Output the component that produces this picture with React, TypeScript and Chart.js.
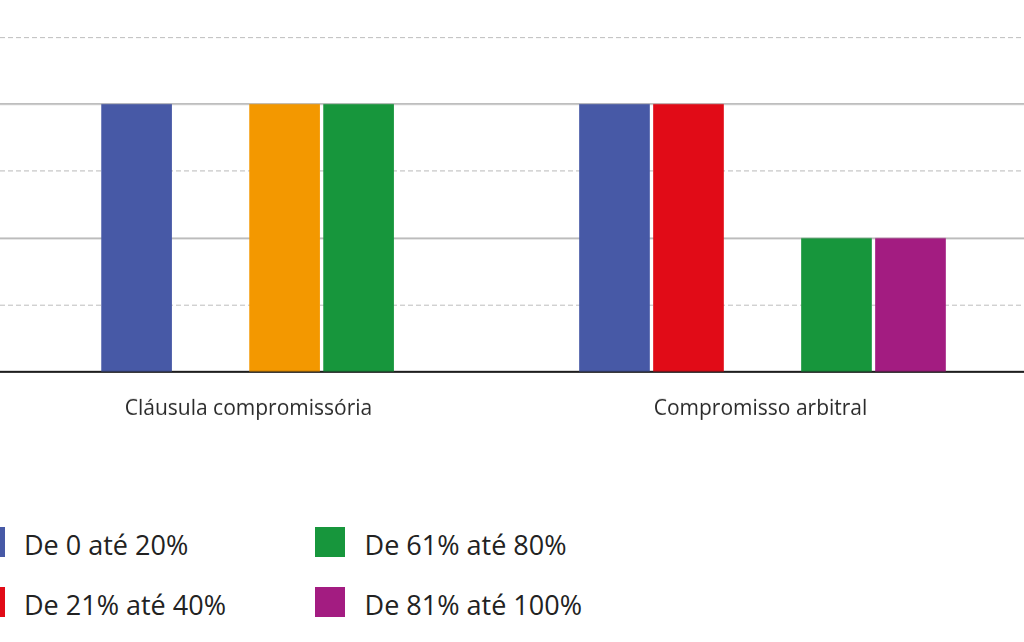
import { useEffect, useRef } from 'react';
import { Chart, registerables, ChartConfiguration, ScriptableScaleContext } from 'chart.js';

Chart.register(...registerables);

// Categories on the x axis
const categories = ['Cláusula compromissória', 'Compromisso arbitral'];

// Series (legend order) and their colours
const seriesNames = ['De 0 até 20%', 'De 21% até 40%', 'De 41% até 60%', 'De 61% até 80%', 'De 81% até 100%'];
const seriesColors = ['#4759a6', '#e10b17', '#f39800', '#17963c', '#a31c81'];

// One value per category, null = no bar
const range0to20: (number | null)[] = [4, 4];
const range21to40: (number | null)[] = [null, 4];
const range41to60: (number | null)[] = [4, null];
const range61to80: (number | null)[] = [4, 2];
const range81to100: (number | null)[] = [null, 2];
const seriesValues = [range0to20, range21to40, range41to60, range61to80, range81to100];

// Value axis
const yMax = 5;
const yStep = 1;

// The visible window of the category axis (the picture is cropped on both sides)
const xMin = -0.5955;
const xMax = 1.5472;

const FONT = '"Open Sans", sans-serif';

function Legend() {
  return (
    <div
      style={{
        position: 'absolute',
        left: -25.3,
        top: 527,
        display: 'grid',
        gridTemplateRows: 'repeat(3, 30px)',
        gridAutoFlow: 'column',
        gridAutoColumns: '340.6px',
        rowGap: 30,
      }}
    >
      {seriesNames.map((name, i) => (
        <div key={name} style={{ display: 'flex', alignItems: 'center', gap: 19.3, height: 30 }}>
          <span style={{ width: 30, height: 30, background: seriesColors[i], flex: 'none' }} />
          <span
            style={{
              fontFamily: FONT,
              fontSize: 27,
              lineHeight: '30px',
              color: '#222',
              whiteSpace: 'nowrap',
              position: 'relative',
              top: 2.6,
            }}
          >
            {name}
          </span>
        </div>
      ))}
    </div>
  );
}

export default function App() {
  const chartRef = useRef<HTMLCanvasElement>(null);
  const chartInstanceRef = useRef<Chart | null>(null);

  useEffect(() => {
    if (!chartRef.current) return;
    if (chartInstanceRef.current) chartInstanceRef.current.destroy();
    const ctx = chartRef.current.getContext('2d');
    if (!ctx) return;

    const solidGrid = (c: ScriptableScaleContext) =>
      c.tick && c.tick.value > 0 && c.tick.value % 2 === 0 ? '#a9a9a9' : 'rgba(0,0,0,0)';
    const dashedGrid = (c: ScriptableScaleContext) =>
      c.tick && c.tick.value % 2 === 1 ? '#bdbdbd' : 'rgba(0,0,0,0)';

    chartInstanceRef.current = new Chart(ctx, {
      type: 'bar',
      data: {
        datasets: seriesNames.map((name, si) => ({
          label: name,
          data: categories.map((_, ci) => ({ x: ci, y: seriesValues[si][ci] })),
          backgroundColor: seriesColors[si],
          borderColor: 'rgba(0,0,0,0)',
          borderWidth: { top: 0, right: 2, bottom: 0, left: 2 },
          barThickness: 74,
          xAxisID: 'x',
          yAxisID: 'y',
        })),
      },
      options: {
        animation: false,
        responsive: true,
        maintainAspectRatio: false,
        layout: { padding: { top: 37, bottom: 10, left: 0, right: 0 } },
        plugins: {
          legend: { display: false },
          tooltip: { enabled: false },
        },
        scales: {
          x: {
            type: 'linear',
            min: xMin,
            max: xMax,
            offset: false,
            weight: 0,
            grid: { display: false, drawTicks: false },
            ticks: { display: false },
            border: { display: true, color: '#1e1e1e', width: 2 },
          },
          xLabels: {
            type: 'category',
            labels: categories,
            position: 'bottom',
            offset: true,
            weight: 1,
            grid: { display: false, drawTicks: false },
            border: { display: false },
            ticks: {
              color: '#2b2b2b',
              font: { family: FONT, size: 21 },
              padding: 24.5,
              labelOffset: -7.5,
              maxRotation: 0,
              autoSkip: false,
            },
          },
          y: {
            min: 0,
            max: yMax,
            ticks: { display: false, stepSize: yStep },
            grid: { drawTicks: false, color: solidGrid, lineWidth: 1.5 },
            border: { display: false },
          },
          y2: {
            position: 'left',
            min: 0,
            max: yMax,
            ticks: { display: false, stepSize: yStep },
            grid: { drawTicks: false, color: dashedGrid, lineWidth: 1 },
            border: { display: false, dash: [5, 3] },
          },
        },
      },
    } as ChartConfiguration);

    return () => {
      if (chartInstanceRef.current) {
        chartInstanceRef.current.destroy();
        chartInstanceRef.current = null;
      }
    };
  }, []);

  return (
    <div
      style={{
        position: 'fixed',
        left: 0,
        top: 0,
        width: 1024,
        height: 642,
        overflow: 'hidden',
        background: '#fff',
      }}
    >
      <div style={{ position: 'absolute', left: 0, top: 0, width: 1024, height: 455.5 }}>
        <canvas ref={chartRef} />
      </div>
      <Legend />
    </div>
  );
}
